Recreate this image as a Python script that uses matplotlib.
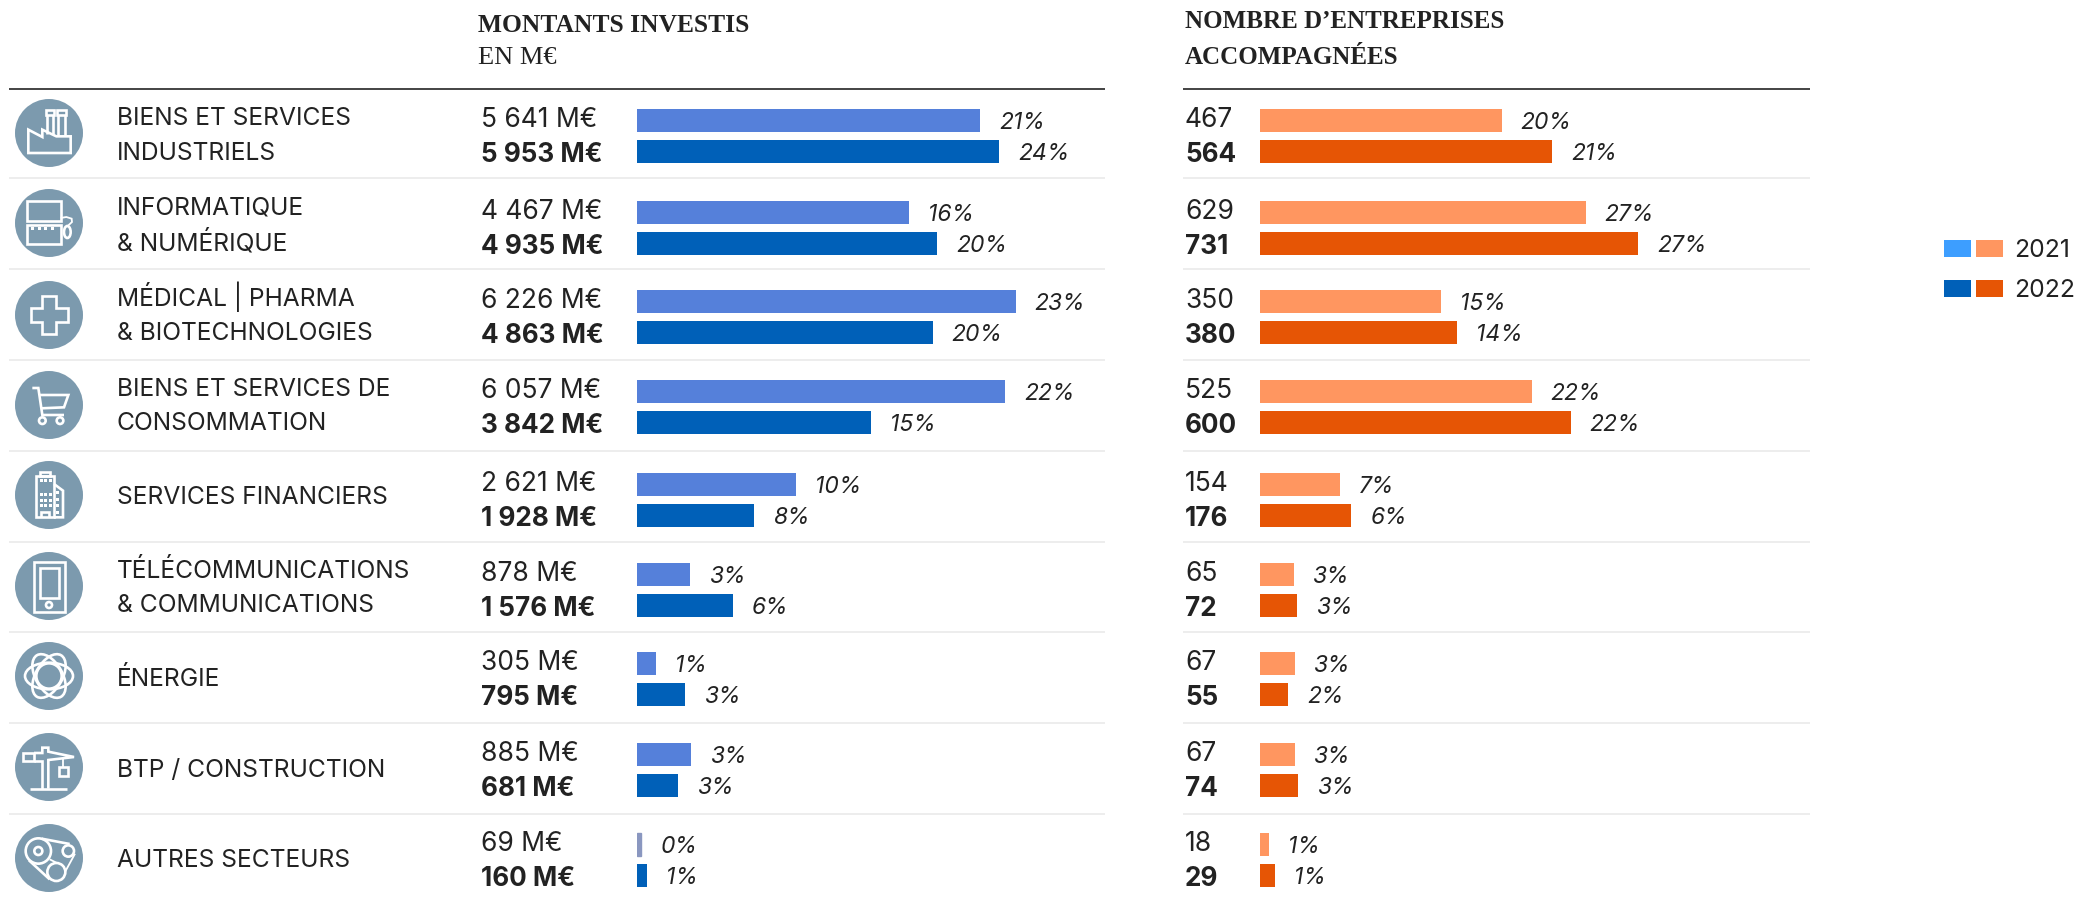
import matplotlib
matplotlib.use("Agg")
import matplotlib.pyplot as plt
from matplotlib.patches import Ellipse, Polygon, Rectangle, Circle

# ---------- data ----------
categories = [
    ["BIENS ET SERVICES", "INDUSTRIELS"],
    ["INFORMATIQUE", "& NUMÉRIQUE"],
    ["MÉDICAL | PHARMA", "& BIOTECHNOLOGIES"],
    ["BIENS ET SERVICES DE", "CONSOMMATION"],
    ["SERVICES FINANCIERS"],
    ["TÉLÉCOMMUNICATIONS", "& COMMUNICATIONS"],
    ["ÉNERGIE"],
    ["BTP / CONSTRUCTION"],
    ["AUTRES SECTEURS"],
]
invest_2021 = [5641, 4467, 6226, 6057, 2621, 878, 305, 885, 69]
invest_2022 = [5953, 4935, 4863, 3842, 1928, 1576, 795, 681, 160]
invest_pct_2021 = [21, 16, 23, 22, 10, 3, 1, 3, 0]
invest_pct_2022 = [24, 20, 20, 15, 8, 6, 3, 3, 1]
firms_2021 = [467, 629, 350, 525, 154, 65, 67, 67, 18]
firms_2022 = [564, 731, 380, 600, 176, 72, 55, 74, 29]
firms_pct_2021 = [20, 27, 15, 22, 7, 3, 3, 3, 1]
firms_pct_2022 = [21, 27, 14, 22, 6, 3, 2, 3, 1]
legend_years = ["2021", "2022"]

# ---------- layout (pixels) ----------
W, H = 2076, 899
group_y = [136, 228, 317, 407, 500, 590, 679, 770, 860]
cat_y = [133.5, 223.5, 314, 404, 495, 586, 677, 768, 858]
icon_y = [133, 223, 315, 405, 495, 586, 676, 767, 858]
sep_y = [178, 269, 360, 451, 542, 632, 723, 814]
BAR_OFF = 15.5
BAR_H = 23
C_B21, C_B22 = "#5580DA", "#0060B8"
C_O21, C_O22 = "#FF9660", "#E65505"
C_LEG = "#3D9EFF"
TXT = "#222222"
ICON = "#7C9AAE"
SANS = "Inter"
SERIF = "Liberation Serif"
SIZE = 17.7
VAL_SIZE = 19
BOLD_SIZE = 18.8
PCT_SIZE = 16.5

fig = plt.figure(figsize=(W / 100, H / 100), dpi=100, facecolor="white")
bg = fig.add_axes([0, 0, 1, 1])
bg.set_xlim(0, W)
bg.set_ylim(H, 0)
bg.axis("off")


def txt(x, yc, s, size=SIZE, weight="normal", family=SANS, cap=18, **kw):
    bg.text(x, yc + cap / 2, s, fontsize=size, fontweight=weight, family=family,
            color=TXT, va="baseline", ha="left", **kw)


# rules
for x0, x1 in [(9, 1105), (1183, 1810)]:
    bg.plot([x0, x1], [88.5, 88.5], color="#111111", lw=1.1, solid_capstyle="butt")
    for y in sep_y:
        bg.plot([x0, x1], [y, y], color="#E8E8E8", lw=1.1, solid_capstyle="butt")

# headers
txt(478, 24, "MONTANTS INVESTIS", size=18.4, weight="bold", family=SERIF, cap=16)
txt(478, 56, "EN M€", size=19, family=SERIF, cap=16)
txt(1185, 20, "NOMBRE D’ENTREPRISES", size=18, weight="bold", family=SERIF, cap=16)
txt(1185, 56, "ACCOMPAGNÉES", size=18, weight="bold", family=SERIF, cap=16)

# category labels
for lines, yc in zip(categories, cat_y):
    if len(lines) == 2:
        txt(117, yc - 17.5, lines[0])
        txt(117, yc + 17.5, lines[1])
    else:
        txt(117, yc, lines[0])


def fmt(v, suffix=""):
    return f"{v:,}".replace(",", " ") + suffix


def panel(x0, x1, scale, v21, v22, p21, p22, c21, c22, label_x, suffix):
    ax = fig.add_axes([x0 / W, 0, (x1 - x0) / W, 1])
    ax.patch.set_alpha(0)
    ax.set_xlim(0, (x1 - x0) / scale)
    ax.set_ylim(H, 0)
    ax.axis("off")
    y21 = [g - BAR_OFF for g in group_y]
    y22 = [g + BAR_OFF for g in group_y]
    bars21 = ax.barh(y21, v21, height=BAR_H, color=c21)
    ax.barh(y22, v22, height=BAR_H, color=c22)
    for vals, pcts, ys in ((v21, p21, y21), (v22, p22, y22)):
        for v, p, y in zip(vals, pcts, ys):
            ax.annotate(f"{p}%", xy=(v, y + 8.5), xytext=(13.7, 0), textcoords="offset points",
                        fontsize=PCT_SIZE, style="italic", family=SANS,
                        color=TXT, va="baseline", ha="left", annotation_clip=False)
    for g, a, b in zip(group_y, v21, v22):
        txt(label_x, g - 18, fmt(a, suffix), size=VAL_SIZE)
        txt(label_x, g + 17, fmt(b, suffix), size=BOLD_SIZE, weight="bold")
    return bars21


bars = panel(637, 1105, 0.0608, invest_2021, invest_2022, invest_pct_2021, invest_pct_2022,
             C_B21, C_B22, 481, " M€")
bars[-1].set_color("#8A97C0")
panel(1260, 1810, 0.5175, firms_2021, firms_2022, firms_pct_2021, firms_pct_2022,
      C_O21, C_O22, 1185, "")

# legend
for y, c1, c2, lab in [(240, C_LEG, C_O21, legend_years[0]), (280, C_B22, C_O22, legend_years[1])]:
    bg.add_patch(Rectangle((1944, y), 27, 17, color=c1, lw=0))
    bg.add_patch(Rectangle((1976, y), 27, 17, color=c2, lw=0))
    txt(2014, y + 8, lab, size=17.8)

# ---------- icons (local coordinates from the 3x crops) ----------
LW = 1.9
W_ = "white"


def icon(i, cy):
    cx = 49
    bg.add_patch(Circle((cx, cy), 34, color=ICON, lw=0, zorder=2))

    def X(x):
        return cx + (x - 120) / 3

    def Y(y):
        return cy + (y - 118) / 3

    def line(pts, closed=False, lw=LW):
        bg.add_patch(Polygon([(X(a), Y(b)) for a, b in pts], closed=closed, fill=False,
                             ec=W_, lw=lw, zorder=3, joinstyle="miter"))

    def rect(a, b, c, d, lw=LW):
        line([(a, b), (c, b), (c, d), (a, d)], True, lw)

    def ring(x, y, rx, ry=None, angle=0, lw=LW):
        ry = rx if ry is None else ry
        bg.add_patch(Ellipse((X(x), Y(y)), 2 * rx / 3, 2 * ry / 3, angle=angle, fill=False,
                             ec=W_, lw=lw, zorder=3))

    def dots(xs, ys, s=3):
        for a in xs:
            for b in ys:
                bg.add_patch(Rectangle((X(a) - s / 2, Y(b) - s / 2), s, s, color=W_, lw=0, zorder=3))

    if i == 0:
        line([(58, 178), (58, 108), (100, 130), (100, 108), (142, 128), (185, 128), (185, 178)], True)
        rect(110, 50, 135, 65)
        rect(145, 50, 170, 65)
        for x in (113, 132, 148, 167):
            line([(x, 65), (x, 122 if x < 140 else 126)])
    elif i == 1:
        rect(55, 52, 155, 112)
        rect(55, 125, 155, 180)
        dots([70, 90, 110, 130], [133], 3)
        line([(155, 103), (172, 100), (188, 105), (189, 115), (176, 127)], lw=1.3)
        ring(175, 145, 10, 18)
    elif i == 2:
        line([(100, 62), (140, 62), (140, 98), (178, 98), (178, 140), (140, 140), (140, 175),
              (100, 175), (100, 140), (65, 140), (65, 98), (100, 98)], True)
    elif i == 3:
        line([(70, 67), (88, 67), (100, 148), (165, 148)])
        line([(90, 88), (178, 88), (165, 125), (96, 128)])
        ring(100, 165, 10)
        ring(153, 165, 10)
    elif i == 4:
        rect(80, 60, 135, 185)
        rect(92, 48, 122, 60)
        line([(135, 85), (162, 105), (162, 185), (135, 185)])
        dots([97, 110, 123], [75, 115, 133, 150], 3)
        dots([146], [110, 130, 150, 170], 3)
        line([(97, 185), (97, 170), (120, 170), (120, 185)])
    elif i == 5:
        rect(75, 45, 167, 195)
        rect(92, 65, 150, 155)
        ring(120, 175, 9)
    elif i == 6:
        ring(120, 118, 38)
        for ang in (0, 60, -60):
            ring(120, 118, 72, 40, angle=ang)
    elif i == 7:
        line([(62, 183), (175, 183)])
        line([(100, 183), (100, 100), (75, 100)])
        line([(118, 183), (118, 97), (195, 88), (118, 72), (118, 60), (100, 60), (100, 76), (75, 76)])
        rect(42, 76, 75, 100)
        line([(163, 95), (163, 118)], lw=1.3)
        rect(150, 118, 177, 145)
    else:
        ring(88, 97, 38)
        ring(88, 97, 12)
        ring(178, 97, 17)
        ring(142, 160, 27)
        line([(98, 60), (182, 76)])
        line([(60, 125), (122, 182)])
        line([(198, 105), (168, 160)], lw=1.3)
        line([(122, 122), (142, 132)], lw=1.3)


for i, cy in enumerate(icon_y):
    icon(i, cy)

fig.savefig("out.png", dpi=100, facecolor="white")
